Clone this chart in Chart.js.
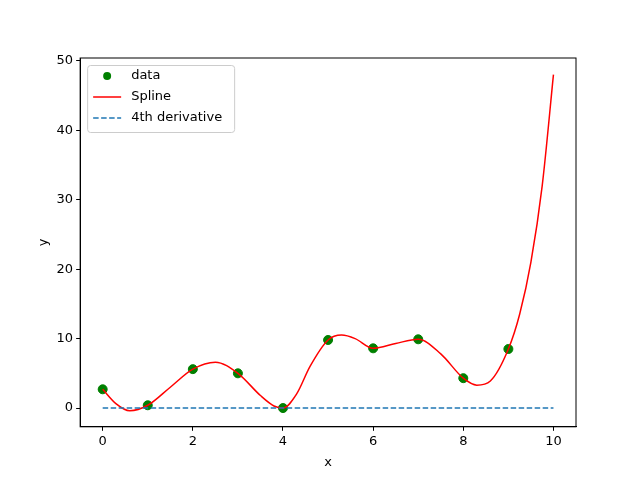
<!DOCTYPE html>
<html><head><script src="https://cdn.jsdelivr.net/npm/chart.js@4"></script>
<style>body{margin:0;background:#fff}</style></head><body>
<canvas id="c" width="640" height="480" style="width:640px;height:480px"></canvas>
<script>
const dataX=[0,1,2,3,4,5,6,7,8,9];
const dataY=[2.7,0.4,5.6,5.0,0.0,9.8,8.6,9.9,4.3,8.5];
const splineX=[0,0.3,0.6,1,1.5,2,2.5,3,3.5,3.8,4,4.3,4.6,5,5.3,5.6,6,6.5,7,7.5,8,8.3,8.6,9,9.25,9.5,9.75,10];
const splineY=[2.7,0.6,-0.4,0.4,3.0,5.6,6.6,5.0,1.8,0.3,0.0,2.0,6.0,9.8,10.5,10.0,8.6,9.3,9.9,7.8,4.3,3.3,3.9,8.5,13.5,21,32,48];
const derivX=[0,10];
const derivY=[0,0];
const xTicks=[0,2,4,6,8,10];
const yTicks=[0,10,20,30,40,50];
const toPts=(xs,ys)=>xs.map((x,i)=>({x,y:ys[i]}));
const legendItems=[['data','pt','green'],['Spline','line','red'],['4th derivative','dash','#1f77b4']];
const legendPlugin={id:'lg',afterDraw(ch){const c=ch.ctx,a=ch.chartArea;const x0=a.left+7,y0=a.top+7;
c.save();c.fillStyle='rgba(255,255,255,0.8)';c.strokeStyle='#ccc';c.lineWidth=1;
c.beginPath();c.roundRect(x0+0.5,y0+0.5,147,67,3);c.fill();c.stroke();
c.font='13px "DejaVu Sans"';c.textBaseline='middle';
legendItems.forEach((it,i)=>{const yy=y0+11+i*21;
 if(it[1]==='pt'){c.fillStyle=it[2];c.beginPath();c.arc(x0+20,yy,4,0,7);c.fill();}
 else{c.strokeStyle=it[2];c.lineWidth=1.5;c.setLineDash(it[1]==='dash'?[5.5,2.5]:[]);c.beginPath();c.moveTo(x0+6,yy);c.lineTo(x0+34,yy);c.stroke();c.setLineDash([]);}
 c.fillStyle='#000';c.fillText(it[0],x0+44,yy);});
c.restore();}};
Chart.defaults.font.family='"DejaVu Sans"';Chart.defaults.font.size=13;Chart.defaults.color='#000';
const grid={display:true,drawOnChartArea:false,drawTicks:true,tickLength:4,tickColor:'#000'};
new Chart(document.getElementById('c'),{type:'scatter',
data:{datasets:[
{data:toPts(derivX,derivY),showLine:true,borderColor:'#1f77b4',borderWidth:1.5,borderDash:[5.5,2.5],pointRadius:0},
{data:toPts(splineX,splineY),showLine:true,borderColor:'red',borderWidth:1.5,pointRadius:0,cubicInterpolationMode:'monotone'},
{data:toPts(dataX,dataY),showLine:false,backgroundColor:'green',borderColor:'green',pointRadius:4.5}]},
options:{responsive:false,animation:false,layout:{padding:{left:34,right:64,top:58,bottom:8}},
plugins:{legend:{display:false},tooltip:{enabled:false}},
scales:{x:{type:'linear',min:-0.5,max:10.5,afterBuildTicks:s=>{s.ticks=xTicks.map(v=>({value:v}))},
 grid,border:{color:'#000'},ticks:{padding:3},
 title:{display:true,text:'x',padding:2}},
 y:{min:-2.7,max:50.4,afterBuildTicks:s=>{s.ticks=yTicks.map(v=>({value:v}))},
 grid,border:{color:'#000'},ticks:{padding:3},
 title:{display:true,text:'y',padding:2}}}},
plugins:[legendPlugin,{id:'frame',afterDraw(ch){const c=ch.ctx,a=ch.chartArea;c.save();c.strokeStyle='#000';c.lineWidth=1;c.strokeRect(a.left,a.top,a.right-a.left,a.bottom-a.top);c.restore();}}]});
</script></body></html>
